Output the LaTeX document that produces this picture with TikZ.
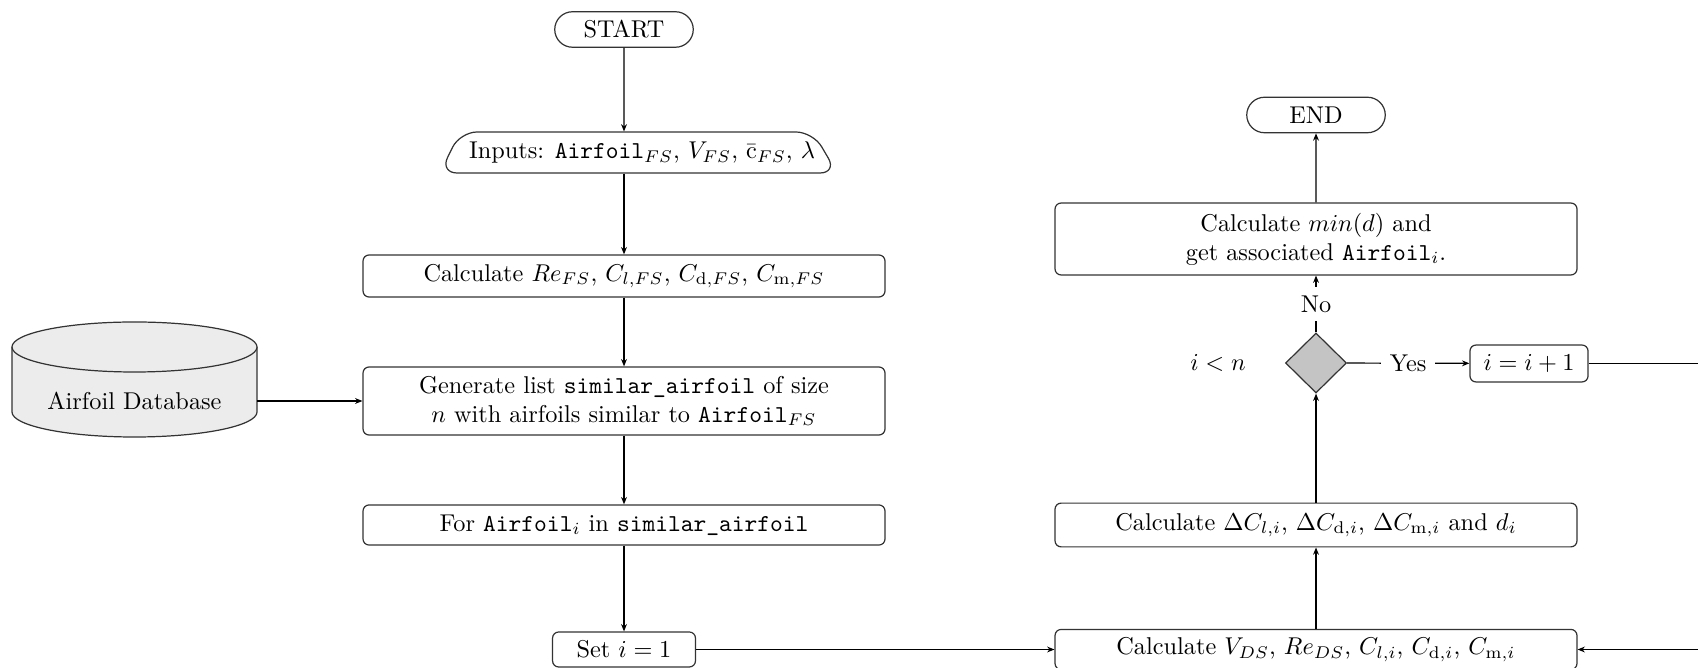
\documentclass[tikz,border=0pt]{standalone}
\usetikzlibrary{shapes.misc,shapes.geometric,arrows.meta}
\definecolor{dbfill}{HTML}{ECECEC}
\definecolor{diafill}{HTML}{C4C4C4}
\begin{document}
\begin{tikzpicture}[x=0.41152pt,y=-0.41152pt,
  box/.style={draw=black!80, line width=0.5pt, rounded corners=2.5pt, minimum width=214.8pt, align=center, inner sep=2pt},
  term/.style={draw=black!80, line width=0.5pt, rounded rectangle, minimum width=59pt, minimum height=14.6pt, inner sep=1pt},
  arr/.style={-{Stealth[length=3pt,width=2.4pt]}, line width=0.5pt},
  ln/.style={line width=0.5pt},
  lbl/.style={fill=white, inner sep=3.5pt}]
\useasboundingbox (0,0) rectangle (1698,668);

% left column
\node[term] (nstart) at (624,29.5) {START};
\node[minimum width=162.5pt, minimum height=16.9pt, inner sep=0pt] (inp) at (642,152.5)
  {Inputs: \texttt{Airfoil}$_{FS}$, $V_{FS}$, $\bar{\mathrm{c}}_{FS}$, $\lambda$};
\draw[draw=black!80, line width=0.5pt, rounded corners=7pt]
  (624,132) -- (813,132) -- (837,173) -- (440,173) -- (460,132) -- cycle;
\node[box, minimum height=17.3pt] (calc1) at (624,276)
  {Calculate $Re_{FS}$, $C_{l,FS}$, $C_{\mathrm{d},FS}$, $C_{\mathrm{m},FS}$};
\node[box, minimum height=28pt] (gen) at (624,401)
  {Generate list \texttt{similar\_airfoil} of size\\ $n$ with airfoils similar to \texttt{Airfoil}$_{FS}$};
\node[box, minimum height=16.5pt] (nfor) at (624,525)
  {For \texttt{Airfoil}$_i$ in \texttt{similar\_airfoil}};
\node[box, minimum width=58.8pt, minimum height=14.4pt] (nset) at (624,649.5) {Set $i=1$};

% database
\fill[dbfill] (12,347) -- (12,412) arc[start angle=180,end angle=360,x radius=50.41pt,y radius=10.29pt] -- (257,347) -- cycle;
\draw[black!80, line width=0.5pt] (12,347) -- (12,412) arc[start angle=180,end angle=360,x radius=50.41pt,y radius=10.29pt] -- (257,347);
\filldraw[fill=dbfill, draw=black!80, line width=0.5pt] (134.5,347) ellipse [x radius=50.41pt, y radius=10.29pt];
\node[minimum width=100.8pt, inner sep=0pt] (db) at (134.5,401) {Airfoil Database};

% right column
\node[term] (nend) at (1316,115) {END};
\node[box, minimum height=29.6pt] (mind) at (1316,239)
  {Calculate $min(d)$ and\\ get associated \texttt{Airfoil}$_i$.};
\node[diamond, draw=black!80, line width=0.5pt, fill=diafill, minimum width=25.1pt, minimum height=24.7pt, inner sep=0pt] (dec) at (1316,363) {};
\node (cond) at (1218,363) {$i<n$};
\node[box, minimum width=48.6pt, minimum height=15.2pt] (inc) at (1529,363.5) {$i=i+1$};
\node[box, minimum height=18pt] (calcd) at (1316,525)
  {Calculate $\Delta C_{l,i}$, $\Delta C_{\mathrm{d},i}$, $\Delta C_{\mathrm{m},i}$ and $d_i$};
\node[box, minimum height=16.5pt] (calcv) at (1316,649.5)
  {Calculate $V_{DS}$, $Re_{DS}$, $C_{l,i}$, $C_{\mathrm{d},i}$, $C_{\mathrm{m},i}$};
\coordinate (rt) at (1699.5,363.5);

% connectors
\draw[arr] (nstart) -- (nstart |- inp.north);
\draw[arr] (nstart |- inp.south) -- (calc1);
\draw[arr] (calc1) -- (gen);
\draw[arr] (db.east) -- (db.east -| gen.west);
\draw[arr] (gen) -- (nfor);
\draw[arr] (nfor) -- (nset);
\draw[arr] (nset) -- (calcv);
\draw[arr] (calcv) -- (calcd);
\draw[arr] (calcd) -- (dec);
\draw[arr] (dec) -- node[lbl] {No} (mind);
\draw[arr] (dec) -- node[lbl] {Yes} (inc);
\draw[arr] (inc.east) -- (rt) -- (rt |- calcv.east) -- (calcv.east);
\draw[arr] (mind) -- (nend);
\end{tikzpicture}
\end{document}
